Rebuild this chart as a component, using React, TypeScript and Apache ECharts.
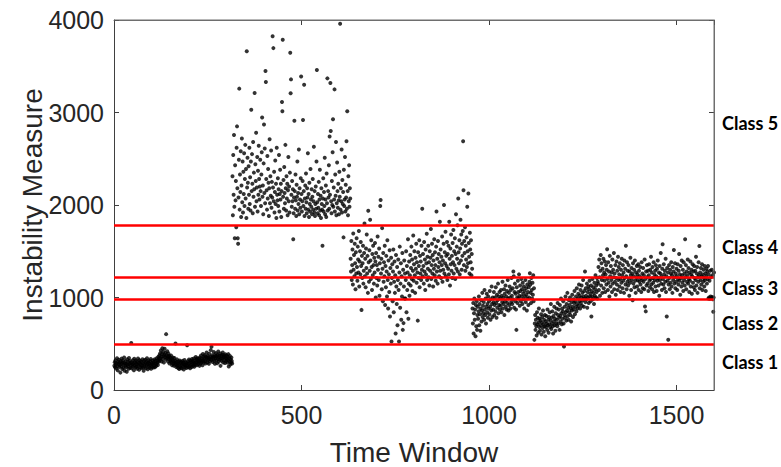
import React, { useEffect, useRef } from "react";
import * as echarts from "echarts";

// Time-window segments: each list holds consecutive windows starting at its start index
const seg1Start = 1;
const seg1 = [
  262,301,245,318,276,233,290,344,258,212,305,281,327,249,296,
  270,188,312,254,339,283,226,297,318,241,275,352,208,289,263,
  310,247,285,198,331,272,256,304,229,346,281,315,240,292,268,
  509,236,301,274,322,255,288,213,337,266,298,243,319,282,251,
  307,229,275,341,260,294,218,323,287,249,312,270,238,301,265,
  333,244,289,207,316,273,252,328,291,236,305,262,344,278,225,
  297,319,256,284,240,311,268,335,229,293,276,252,318,287,243,
  302,265,331,247,289,316,258,278,343,296,322,271,358,305,338,
  372,318,396,343,427,361,308,389,452,335,412,366,298,381,447,
  356,401,329,604,375,342,418,363,309,394,338,371,286,352,327,
  311,374,296,339,268,322,351,283,307,263,345,291,317,502,276,
  248,299,331,262,287,238,309,272,226,318,254,293,241,306,269,
  234,287,315,258,296,221,279,324,263,248,301,274,237,292,483,
  266,311,245,283,329,257,294,236,318,271,302,248,336,279,314,
  263,297,341,252,288,318,274,357,301,329,268,343,296,315,282,
  338,307,261,352,319,287,374,296,341,322,268,389,313,356,298,
  345,377,314,286,362,331,405,348,297,369,324,352,283,391,336,
  312,358,431,327,468,349,376,302,362,338,411,317,358,284,374,
  346,398,321,362,289,379,335,417,306,353,372,328,395,261,344,
  368,317,382,339,406,298,357,376,324,361,292,387,343,315,372,
  338,296,359,321,388,254,342,305,367,276,331,298,352,314,286,
];

const seg2Start = 316;
const seg2 = [
  2310,1890,2540,2110,2757,1980,1640,2430,2050,2260,1760,2620,2850,2180,1640,
  1580,2080,2490,3258,1950,2330,2140,2580,1870,2210,2720,2030,2470,1920,2360,
  2120,2560,1990,2280,2650,2070,2390,1860,3663,2190,2510,2240,1960,2420,2110,
  2620,2010,2300,1940,2470,3030,2150,2550,2230,1910,2680,2090,2350,2170,3210,
  1980,2440,2260,2780,2040,2190,2520,1930,2370,2110,2640,2280,2060,2200,2490,
  2150,1990,2330,2570,2945,2090,2210,1900,2450,2870,2130,2610,2020,3448,3330,
  2280,2160,1950,2530,2070,2390,2240,1880,2180,2710,2020,2310,2100,2590,1970,
  2250,2080,3825,2190,3696,2040,2360,1920,2140,2480,2010,2230,1860,2620,2110,
  2050,2290,1990,2170,2540,1930,2120,2380,2060,2230,1870,2150,3113,3013,3786,
  2090,2270,1960,2410,2130,2020,2650,2180,1940,2310,2070,2230,1890,2160,2520,
  2040,2200,1920,2350,3646,3208,3358,2110,1980,2260,2040,2170,1629,1910,2080,
  2910,2150,1960,2330,2050,1880,2220,2090,2470,1940,2130,2010,2600,1900,2180,
  2060,1970,2290,3390,2120,1930,2040,2260,2918,1990,2150,3300,1880,2070,2210,
  1960,2340,2030,1910,2180,2080,2560,1950,2120,1870,2240,2010,1930,2390,2060,
  1980,2170,1900,2090,2280,1950,2040,2630,1920,2150,1880,2010,2200,1960,2470,
  3459,2030,1910,2120,1970,2250,1890,2060,2380,1940,2100,1860,2180,2010,1950,
  1560,2070,2290,1930,2140,1990,2510,1900,2060,2210,1870,2340,2020,3369,1940,
  2150,2080,2430,1960,2740,2110,3320,2800,2040,1910,2260,2000,2570,2928,1980,
  2190,2060,3250,1930,2330,2100,2680,1890,2020,2460,2150,1970,2230,2050,1900,
  2360,2090,3959,1950,2180,2040,2600,1920,2270,2010,2140,1650,2380,1990,2060,
  2520,1930,2220,2080,2690,1960,3013,2150,1890,2310,2040,2430,1980,2180,2070,
];

const seg3Start = 631;
const seg3 = [
  1420,1280,1610,1190,1350,1520,1140,1693,1300,1460,1230,1580,1370,1090,1490,1260,
  1640,1330,1180,1550,1410,1270,1720,1120,1390,1500,1250,1600,1340,866,1450,1210,
  1370,1560,1150,1290,1480,1800,1230,1420,1110,1530,1320,1680,1260,1450,1050,1937,
  1380,1170,1510,1290,1840,1400,1200,1620,1330,1080,1470,1240,1560,1350,1150,1430,
  1270,1590,1390,1000,1480,1210,1350,1130,1660,1300,1440,1190,1530,1020,1370,1990,
  2053,1260,1420,1090,1750,1310,960,1480,1170,1380,1230,1560,920,1340,1110,1450,
  1280,1010,1620,1190,880,1400,1250,1060,1510,794,1320,1150,1430,525,1210,1360,
  960,1280,1520,840,1170,1390,1050,1240,610,1460,1120,930,1330,700,1190,1410,
  1080,525,1270,1550,890,1150,1370,760,1230,1010,1480,650,1300,723,1120,1400,
  990,1260,990,1190,1500,840,1340,1080,1270,1630,770,1150,1390,1020,1240,1460,
  1130,1320,1550,1200,1410,1070,1290,1670,1180,1360,1500,1240,1050,1430,1310,1580,
  1160,1380,1270,750,1490,1210,1340,1620,1110,1450,1260,1390,1190,1560,1300,1960,
  1230,1470,1340,1150,1600,1280,1410,1080,1520,1250,1370,1690,1190,1440,1310,1560,
  1220,1380,1130,1500,1290,1430,1740,1200,1350,1580,1260,1460,1120,1400,1310,1630,
  1240,1490,1350,1180,1550,1930,1280,1420,1150,1610,1330,1470,1230,1380,1820,1290,
  1520,1210,1440,1350,1660,1170,1400,1300,1580,2000,1260,1490,1370,1710,1230,1450,
  1340,1600,1190,1470,1310,1560,1250,1820,1420,1130,1530,1360,1680,1290,1450,1210,
  1590,1380,1730,1260,1500,1350,1640,1200,1470,1900,1310,1550,1420,1780,1280,2070,
  1490,1370,1620,1250,1530,1840,1400,1680,1300,1580,1450,1720,2690,2160,1350,1610,
  1480,1760,1290,1560,1410,1650,1330,1980,1500,1370,2125,1590,1440,1260,1700,1520,
  1380,1620,1240,1470,1310,
];

const seg4Start = 956;
const seg4 = [
  880,720,940,610,830,990,760,870,580,920,690,960,650,810,900,
  770,850,1010,700,930,820,640,880,970,740,860,1050,790,910,830,
  950,760,1080,870,810,990,720,900,1040,840,930,780,1010,880,960,
  820,1070,900,760,980,860,1120,930,790,1000,870,950,1060,810,920,
  1000,850,1110,940,780,1030,890,970,1150,830,1010,920,1060,870,990,
  910,1080,840,1020,950,1170,880,1000,930,1090,810,1040,960,1130,900,
  1010,870,1070,940,1190,990,860,1050,920,1120,1000,880,1080,950,1210,
  1020,930,1100,980,1280,1230,890,1060,1150,960,1040,870,650,1110,1000,
  940,1180,1060,990,1250,1020,910,1130,1070,960,1200,1010,1090,930,1160,
  1040,980,1120,880,1070,1010,1190,950,1100,1030,860,1140,990,1060,920,
  1110,1000,1170,1262,1137,1050,940,1210,1080,990,1160,1030,1240,960,1100,
];

const seg5Start = 1121;
const seg5 = [
  542,720,810,650,760,690,590,840,710,780,620,730,880,680,770,
  640,750,700,820,600,730,790,670,860,710,630,760,690,810,580,
  740,680,800,720,650,870,700,760,620,790,710,840,680,750,930,
  660,780,720,850,690,610,800,740,900,700,770,640,830,720,880,
  760,690,940,810,720,870,780,650,920,800,740,990,830,710,880,
  770,850,960,720,470,810,900,780,1010,840,750,930,860,1050,800,
  890,760,970,840,920,1000,810,880,740,950,860,1030,900,790,980,
  870,940,1070,820,960,900,1010,850,1100,930,880,990,1040,910,1140,
  960,1020,880,1080,940,1000,1130,910,1050,970,1190,1010,900,1070,990,
  1280,950,1100,1020,980,1150,890,1060,1000,1120,940,1090,1180,1010,1040,
  960,1130,795,1070,1010,1200,980,1110,1050,930,1160,1020,1090,1240,1000,
  1130,1060,1210,990,1172,
];

const seg6Start = 1291;
const seg6 = [
  1150,1330,1080,1410,1220,1020,1290,1460,1130,1370,1190,1050,1310,1240,1420,1100,
  1270,1180,1390,1060,1250,1350,1140,1300,1521,1200,1080,1380,1160,1280,1010,1450,
  1230,1120,1340,1190,1270,1060,1410,1150,1300,1220,1480,1090,1260,1170,1350,1030,
  1210,1390,1140,1290,1080,1440,1190,1330,1250,1120,1370,1200,1060,1300,1160,1420,
  1240,1100,1350,1180,1270,1050,1400,1210,1310,1140,1560,1230,1090,1380,1170,1290,
  1130,1350,1200,1020,1280,1160,1430,1240,1080,1320,1190,1260,970,1370,1150,1230,
  1300,1110,1400,1180,1050,1270,1220,1340,1120,1250,1190,1360,1080,1290,1170,1230,
  1330,1140,1210,1060,1380,1190,1260,1100,1320,1170,1240,1090,1410,902,1200,850,
  1280,1130,1350,1220,1150,1290,1070,1240,1360,1180,1110,1300,1200,1440,1140,1270,
  1090,1330,1210,1160,1380,1060,1250,1190,1290,1120,1350,1230,1070,1310,1180,1400,
  1210,1130,1270,1020,1340,1190,1260,1480,1150,1230,1080,1310,1575,1200,1140,1360,
  1250,1100,1290,1170,1420,1060,1230,795,1320,1180,1270,543,1140,1350,1210,1090,
  1300,1160,1260,1380,1120,1240,1050,1330,1190,1280,1513,1150,1220,1370,1100,1260,
  1170,1310,1230,1080,1360,1200,1140,1290,1470,1180,1250,1030,1340,1210,1120,1400,
  1240,1160,1300,1070,1380,1190,1260,1130,1629,1220,1350,1090,1280,1170,1240,1410,
  1150,1320,1200,1060,1270,1180,1390,1120,1250,1300,1040,1230,1360,1160,1280,1110,
  1340,1210,1080,1290,1190,1440,1130,1260,1330,1050,1220,1170,1380,1240,1557,1100,
  1270,1190,1320,1140,1230,1360,1080,1250,1170,1300,1210,1120,1340,1190,1260,1070,
  1230,1310,1150,1280,1200,1340,990,1250,1000,1180,985,1290,1010,1220,995,1300,
  1005,1240,980,845,1000,1270,
];

const segments: [number, number[]][] = [
  [seg1Start, seg1], [seg2Start, seg2], [seg3Start, seg3],
  [seg4Start, seg4], [seg5Start, seg5], [seg6Start, seg6],
];

const thresholds = [500, 985, 1220, 1785];
const classNames = ["Class 1", "Class 2", "Class 3", "Class 4", "Class 5"];
const classLabelValues = [300, 722, 1105, 1550, 2890];

const xTickLabels = [0, 500, 1000, 1500];
const yTickLabels = [0, 1000, 2000, 3000, 4000];
const xExtent = [0, 1600];
const yExtent = [0, 4000];

const FONT = "'Liberation Sans', Arial, Helvetica, sans-serif";
const TEXT = "#262626";
const AXIS = "#404040";
const BOX = "#6e6e6e";

export default function App() {
  const ref = useRef<HTMLDivElement>(null);

  useEffect(() => {
    if (!ref.current) return;
    const chart = echarts.init(ref.current, undefined, { renderer: "svg" });

    const points: number[][] = [];
    segments.forEach(([start, vals]) => {
      vals.forEach((v, i) => points.push([start + i, v]));
    });

    const axisBase = {
      type: "value" as const,
      splitLine: { show: false },
    };

    chart.setOption({
      animation: false,
      backgroundColor: "#ffffff",
      grid: { left: 114, right: 67, top: 20, bottom: 77, containLabel: false },
      xAxis: [
        {
          ...axisBase,
          position: "bottom",
          min: xExtent[0],
          max: xExtent[1],
          interval: 500,
          axisLine: { show: true, onZero: false, lineStyle: { color: AXIS, width: 1 } },
          axisTick: { show: true, inside: true, length: 5, lineStyle: { color: AXIS } },
          axisLabel: {
            fontSize: 25,
            color: TEXT,
            fontFamily: FONT,
            margin: 12,
            showMaxLabel: false,
            formatter: (v: number) => (xTickLabels.includes(v) ? String(v) : ""),
          },
        },
        {
          ...axisBase,
          position: "top",
          min: xExtent[0],
          max: xExtent[1],
          interval: 500,
          axisLine: { show: true, onZero: false, lineStyle: { color: BOX, width: 1 } },
          axisTick: { show: true, inside: true, length: 5, lineStyle: { color: AXIS } },
          axisLabel: { show: false },
        },
      ],
      yAxis: [
        {
          ...axisBase,
          position: "left",
          min: yExtent[0],
          max: yExtent[1],
          interval: 1000,
          axisLine: { show: true, onZero: false, lineStyle: { color: AXIS, width: 1 } },
          axisTick: { show: true, inside: true, length: 5, lineStyle: { color: AXIS } },
          axisLabel: {
            fontSize: 25,
            color: TEXT,
            fontFamily: FONT,
            margin: 10,
            formatter: (v: number) => (yTickLabels.includes(v) ? String(v) : ""),
          },
        },
        {
          ...axisBase,
          position: "right",
          min: yExtent[0],
          max: yExtent[1],
          interval: 1000,
          axisLine: { show: true, onZero: false, lineStyle: { color: BOX, width: 1 } },
          axisTick: { show: true, inside: true, length: 5, lineStyle: { color: AXIS } },
          axisLabel: { show: false },
        },
      ],
      series: [
        {
          type: "scatter",
          xAxisIndex: 0,
          yAxisIndex: 0,
          data: points,
          symbol: "circle",
          symbolSize: 4,
          itemStyle: { color: "#000000" },
          silent: true,
          markLine: {
            silent: true,
            symbol: ["none", "none"],
            label: { show: false },
            lineStyle: { color: "#ff0000", width: 2.5, type: "solid" },
            data: thresholds.map((t) => ({ yAxis: t })),
          },
        },
        {
          type: "scatter",
          xAxisIndex: 1,
          yAxisIndex: 1,
          data: [],
          silent: true,
        },
      ],
    });

    const labelGraphics = classNames.map((name, i) => {
      const py = chart.convertToPixel({ yAxisIndex: 0 }, classLabelValues[i]) as number;
      return {
        type: "text",
        x: 722,
        y: py,
        style: {
          text: name,
          font: "bold 18px Lato, 'Open Sans', sans-serif",
          fill: "#000000",
          textAlign: "left",
          textVerticalAlign: "middle",
        },
      };
    });

    const x0 = chart.convertToPixel({ xAxisIndex: 0 }, xExtent[0]) as number;
    const x1 = chart.convertToPixel({ xAxisIndex: 0 }, xExtent[1]) as number;
    const y0 = chart.convertToPixel({ yAxisIndex: 0 }, yExtent[1]) as number;
    const y1 = chart.convertToPixel({ yAxisIndex: 0 }, yExtent[0]) as number;

    chart.setOption({
      graphic: [
        {
          type: "polyline",
          silent: true,
          z: 10,
          shape: { points: [[x0, y0], [x1, y0], [x1, y1]] },
          style: { stroke: BOX, lineWidth: 1, fill: "none" },
        },
        ...labelGraphics,
        {
          type: "text",
          x: 414,
          y: 452,
          style: {
            text: "Time Window",
            font: `28px ${FONT}`,
            fill: TEXT,
            textAlign: "center",
            textVerticalAlign: "middle",
          },
        },
        {
          type: "text",
          x: 32,
          y: 205,
          rotation: Math.PI / 2,
          style: {
            text: "Instability Measure",
            font: `28px ${FONT}`,
            fill: TEXT,
            textAlign: "center",
            textVerticalAlign: "middle",
          },
        },
      ],
    });

    return () => chart.dispose();
  }, []);

  return <div ref={ref} style={{ width: 781, height: 467, position: "absolute", left: 0, top: 0 }} />;
}
